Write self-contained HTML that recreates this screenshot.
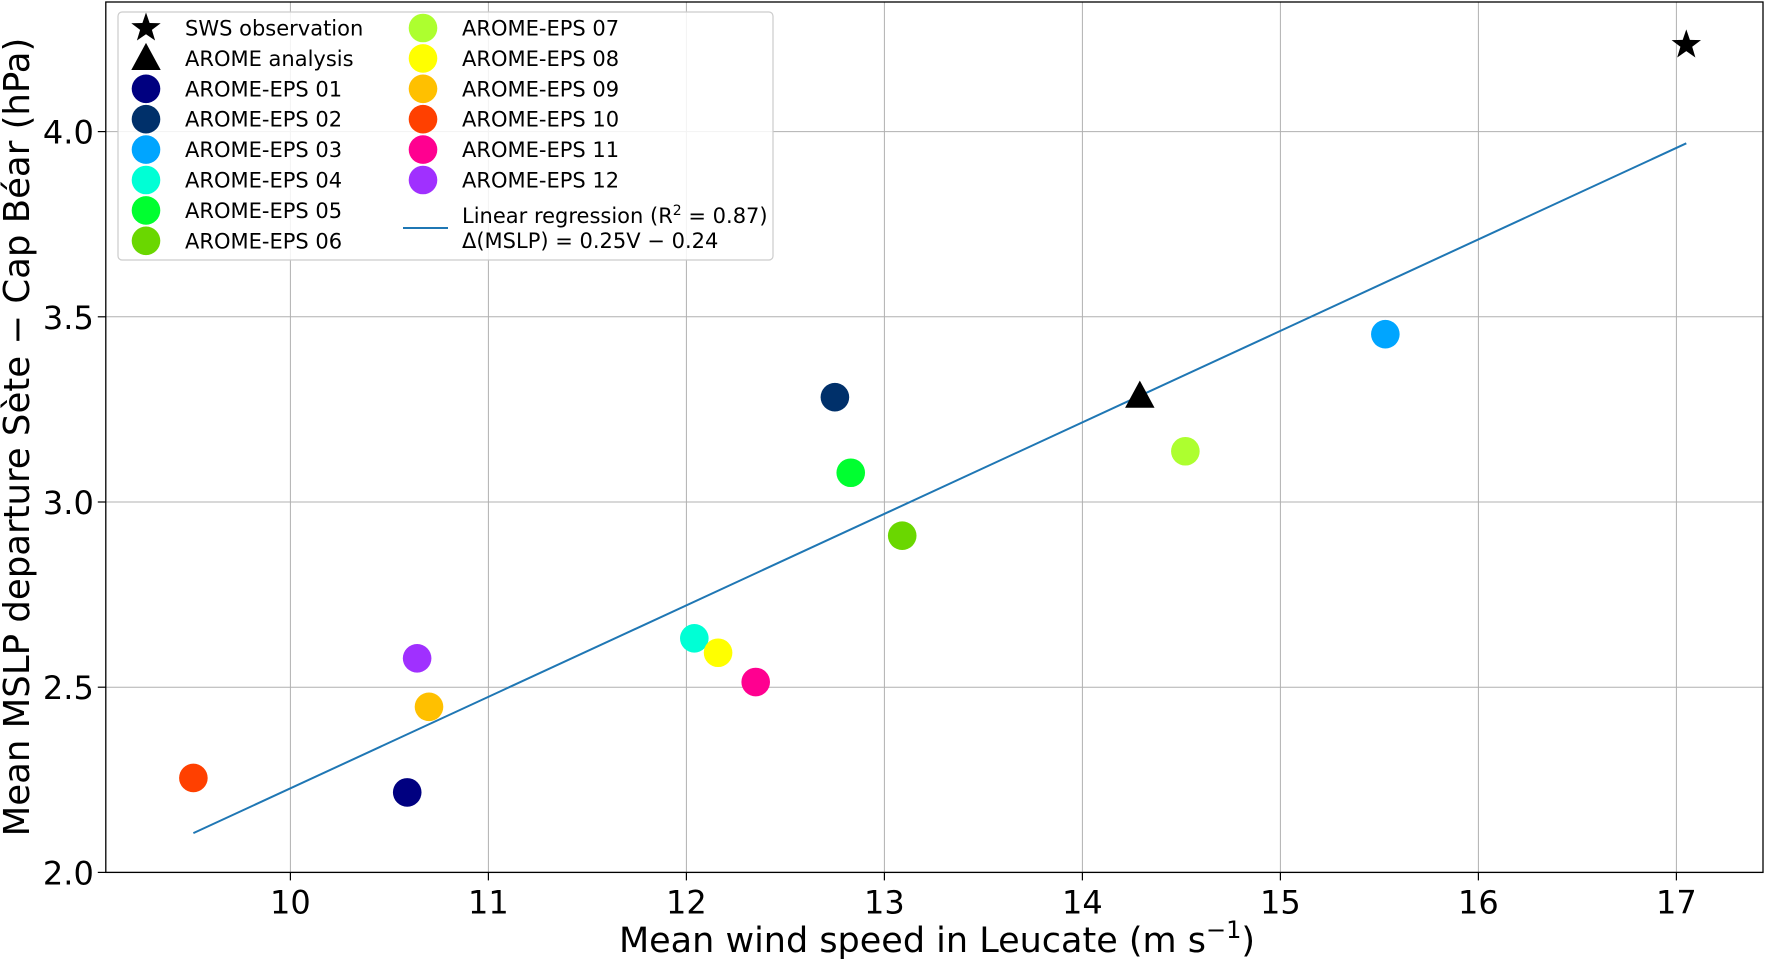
<!DOCTYPE html>
<html><head><meta charset="utf-8"><style>
html,body{margin:0;padding:0;background:#fff;}
svg{display:block;font-family:"DejaVu Sans","Liberation Sans",sans-serif;}
</style></head><body>
<svg id="chart" width="1765" height="961" viewBox="0 0 1765 961">
<g id="grid"></g>
<g id="axes"></g>
<g id="marks"></g>
<g id="legend"></g>
</svg>
<script>
const names = ["AROME-EPS 01","AROME-EPS 02","AROME-EPS 03","AROME-EPS 04","AROME-EPS 05","AROME-EPS 06","AROME-EPS 07","AROME-EPS 08","AROME-EPS 09","AROME-EPS 10","AROME-EPS 11","AROME-EPS 12"];
const colors = ["#000080","#00306a","#00a5ff","#00ffd5","#00ff30","#6ad700","#adff2f","#ffff00","#ffc000","#ff4000","#ff0090","#a030ff"];
const windSpeed = [10.59,12.75,15.53,12.04,12.83,13.09,14.52,12.16,10.70,9.51,12.35,10.64];
const mslpDep = [2.216,3.283,3.453,2.632,3.079,2.909,3.137,2.593,2.447,2.255,2.514,2.578];
const obsPoint = [17.05,4.234];
const analysisPoint = [14.29,3.286];
const regSlope = 0.247, regIntercept = -0.243;
const regRange = [9.51,17.05];
const xTicks = [10,11,12,13,14,15,16,17];
const yTicks = [2.0,2.5,3.0,3.5,4.0];

const L=105.8,R=1763,T=2,B=872.4;
const xs=v=>290.4+(v-10)*198.0;
const ys=v=>872.4-(v-2)*370.4;
const NS="http://www.w3.org/2000/svg";
function mk(p,tag,attrs,text){const e=document.createElementNS(NS,tag);for(const k in attrs)e.setAttribute(k,attrs[k]);if(text!==undefined)e.textContent=text;p.appendChild(e);return e;}
const grid=document.getElementById('grid'),axes=document.getElementById('axes'),marks=document.getElementById('marks'),leg=document.getElementById('legend');

xTicks.forEach(t=>{
  const l=mk(grid,'line',{x1:xs(t),x2:xs(t),y1:T,y2:B,stroke:'#b0b0b0','stroke-width':1});
  
  
  mk(axes,'line',{x1:xs(t),x2:xs(t),y1:B,y2:B+8,stroke:'#000','stroke-width':1.2});
  const tx=mk(axes,'text',{x:xs(t),y:B+41,'font-size':32,'text-anchor':'middle'},String(t));
  
  
});
yTicks.forEach(t=>{
  const l=mk(grid,'line',{x1:L,x2:R,y1:ys(t),y2:ys(t),stroke:'#b0b0b0','stroke-width':1});
  
  
  mk(axes,'line',{x1:L-8,x2:L,y1:ys(t),y2:ys(t),stroke:'#000','stroke-width':1.2});
  const tx=mk(axes,'text',{x:L-12,y:ys(t)+12,'font-size':32,'text-anchor':'end'},t.toFixed(1));
  
  
});
const frame=mk(axes,'rect',{x:L,y:T,width:R-L,height:B-T,fill:'none',stroke:'#000','stroke-width':1.3});


const xl=mk(axes,'text',{x:937,y:952,'font-size':35,'text-anchor':'middle'});
xl.innerHTML='Mean wind speed in Leucate (m s<tspan dy="-14" font-size="24">−1</tspan><tspan dy="14">)</tspan>';


const yl=mk(axes,'text',{x:0,y:0,'font-size':35.5,'text-anchor':'middle',transform:'translate(29,437) rotate(-90)'},'Mean MSLP departure Sète − Cap Béar (hPa)');



const reg=mk(marks,'line',{x1:xs(regRange[0]),y1:ys(regSlope*regRange[0]+regIntercept),x2:xs(regRange[1]),y2:ys(regSlope*regRange[1]+regIntercept),stroke:'#1f77b4','stroke-width':2});



windSpeed.forEach((v,i)=>{
  const c=mk(marks,'circle',{cx:xs(v),cy:ys(mslpDep[i]),r:14.3,fill:colors[i]});
  
  
});
function star(cx,cy,r){let p=[];for(let k=0;k<10;k++){const a=-Math.PI/2+k*Math.PI/5;const rr=k%2?r*0.4:r;p.push((cx+rr*Math.cos(a)).toFixed(1)+','+(cy+rr*Math.sin(a)).toFixed(1));}return p.join(' ');}
function tri(cx,cy,r){return `${cx},${cy-r} ${cx-r*0.95},${cy+r*0.75} ${cx+r*0.95},${cy+r*0.75}`;}
const st=mk(marks,'polygon',{points:star(xs(obsPoint[0]),ys(obsPoint[1]),15.5),fill:'#000'});


const tr=mk(marks,'polygon',{points:tri(xs(analysisPoint[0]),ys(analysisPoint[1]),15.5),fill:'#000'});



// legend
const box=mk(leg,'rect',{x:118,y:12,width:655,height:248,rx:4,fill:'#fff','fill-opacity':0.85,stroke:'#ccc','stroke-width':1.2});


const rowY=k=>28+k*30.4;
function entry(mx,tx,y,label,kind,col){
  const g=mk(leg,'g',{});
  
  
  if(kind==='star')mk(g,'polygon',{points:star(mx,y,15.5),fill:'#000'});
  else if(kind==='tri')mk(g,'polygon',{points:tri(mx,y,15.5),fill:'#000'});
  else mk(g,'circle',{cx:mx,cy:y,r:14.3,fill:col});
  mk(g,'text',{x:tx,y:y+7.5,'font-size':21},label);
}
entry(146,185,rowY(0),'SWS observation','star');
entry(146,185,rowY(1),'AROME analysis','tri');
for(let i=0;i<6;i++)entry(146,185,rowY(i+2),names[i],'c',colors[i]);
for(let i=6;i<12;i++)entry(423,462,rowY(i-6),names[i],'c',colors[i]);
const lg=mk(leg,'g',{});


mk(lg,'line',{x1:403,x2:448,y1:228,y2:228,stroke:'#1f77b4','stroke-width':2});
const t1=mk(lg,'text',{x:462,y:223,'font-size':21});
t1.innerHTML='Linear regression (R<tspan dy="-8" font-size="14">2</tspan><tspan dy="8"> = 0.87)</tspan>';
mk(lg,'text',{x:462,y:248,'font-size':21},'Δ(MSLP) = 0.25V − 0.24');
</script>
</body></html>
